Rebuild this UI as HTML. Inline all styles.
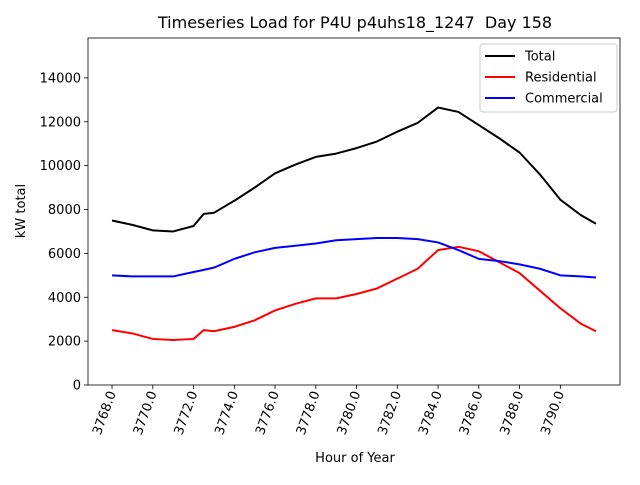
<!DOCTYPE html>
<html><head><meta charset="utf-8"><style>
body{margin:0;background:#fff;}
svg text{font-family:"DejaVu Sans","Liberation Sans",sans-serif;fill:#000;}
</style></head><body>
<svg id="chart" width="640" height="480">
<rect x="0" y="0" width="640" height="480" fill="#fff"/>
<text x="355" y="28" font-size="16" text-anchor="middle">Timeseries Load for P4U p4uhs18_1247&#160; Day 158</text>
<g id="plot"></g>
<text x="355" y="462" font-size="13" text-anchor="middle">Hour of Year</text>
<text transform="translate(25,211) rotate(-90)" font-size="13" text-anchor="middle">kW total</text>
</svg>
<script>
const hours = [3768,3769,3770,3771,3772,3772.5,3773,3774,3775,3776,3777,3778,3779,3780,3781,3782,3783,3784,3785,3786,3787,3788,3789,3790,3791,3791.75];
const totalVals = [7500,7300,7050,7000,7250,7800,7850,8400,9000,9650,10050,10400,10550,10800,11100,11550,11950,12650,12450,11850,11250,10600,9600,8450,7750,7350];
const residentialVals = [2500,2350,2100,2050,2100,2500,2450,2650,2950,3400,3700,3950,3950,4150,4400,4850,5300,6150,6300,6100,5600,5100,4300,3500,2800,2450];
const commercialVals = [5000,4950,4950,4950,5150,5250,5350,5750,6050,6250,6350,6450,6600,6650,6700,6700,6650,6500,6150,5750,5650,5500,5300,5000,4950,4900];
const xTicks = [3768,3770,3772,3774,3776,3778,3780,3782,3784,3786,3788,3790];
const yTicks = [0,2000,4000,6000,8000,10000,12000,14000];
const seriesNames = ["Total","Residential","Commercial"];

const L=88,R=620,T=38,B=385, xmin=3766.82,xmax=3792.93,ymin=0,ymax=15820;
const NS="http://www.w3.org/2000/svg";
function xs(v){return L+(v-xmin)/(xmax-xmin)*(R-L);}
function ys(v){return B-(v-ymin)/(ymax-ymin)*(B-T);}
const g=document.getElementById('plot');
function mk(tag,attrs){const e=document.createElementNS(NS,tag);for(const k in attrs)e.setAttribute(k,attrs[k]);g.appendChild(e);return e;}

yTicks.forEach(v=>{
  const y=ys(v);
  const t=mk('line',{x1:L-4,x2:L,y1:y,y2:y,stroke:'#000','stroke-width':0.8});
  
  
  const lb=mk('text',{x:L-7,y:y+4.5,'font-size':13,'text-anchor':'end'});
  lb.textContent=v;
  
  
});
xTicks.forEach(v=>{
  const x=xs(v);
  const t=mk('line',{x1:x,x2:x,y1:B,y2:B+4,stroke:'#000','stroke-width':0.8});
  
  
  const lb=mk('text',{transform:`translate(${x+4},${B+8}) rotate(-70)`,'font-size':13,'text-anchor':'end'});
  lb.textContent=v.toFixed(1);
  
  
});

const series=[[totalVals,'#000','total-line'],[residentialVals,'#f00','residential-line'],[commercialVals,'#00f','commercial-line']];
series.forEach(([vals,col,name])=>{
  const p=mk('polyline',{points:vals.map((v,i)=>xs(hours[i])+','+ys(v)).join(' '),fill:'none',stroke:col,'stroke-width':2,'stroke-linejoin':'round'});
  
  
});

const frame=mk('rect',{x:L,y:T,width:R-L,height:B-T,fill:'none',stroke:'#000','stroke-width':0.8});



const lg=mk('rect',{x:480,y:44,width:137,height:68,rx:3,fill:'#fff','fill-opacity':0.8,stroke:'#ccc','stroke-width':1});


const cols=['#000','#f00','#00f'];
seriesNames.forEach((n,i)=>{
  const y=56+i*21;
  const l=mk('line',{x1:485,x2:515,y1:y,y2:y,stroke:cols[i],'stroke-width':2});
  
  
  const t=mk('text',{x:525,y:y+4.5,'font-size':13});
  t.textContent=n;
  
  
});
</script>
</body></html>
